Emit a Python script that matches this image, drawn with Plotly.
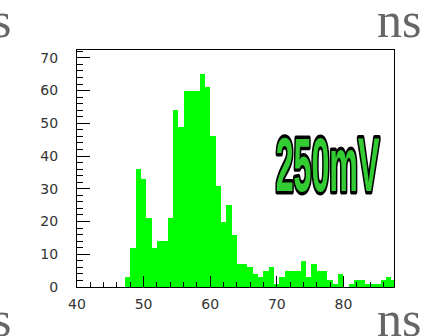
import plotly.graph_objects as go

# ---- data ----
bin_start = 40.0
bin_width = 0.8
counts = [0, 0, 0, 0, 0, 0, 0, 0, 0,
          3, 12, 36, 33, 21, 12, 14, 14, 21, 54,
          49, 60, 60, 60, 65, 61, 46, 31, 20, 25,
          16, 7, 7, 6, 4, 3, 5, 6, 1, 3,
          5, 5, 5, 8, 3, 7, 5, 5, 2, 1,
          4, 0, 1, 2, 2, 1, 1, 1, 2, 3, 2]
x_ticks = [40, 50, 60, 70, 80]
y_ticks = [0, 10, 20, 30, 40, 50, 60, 70]
x_range = [40, 87.6]
y_range = [0, 72.4]
label_text = "250mV"
corner_left = "s"
corner_right = "ns"

# ---- geometry ----
W, H = 425, 336
L, R, T, B = 77, 30.7, 50, 48.5
pw, ph = W - L - R, H - T - B


def px(X):
    return (X - L) / pw


def py(Y):
    return (H - B - Y) / ph


centers = [bin_start + bin_width * (i + 0.5) for i in range(len(counts))]

fig = go.Figure(
    go.Bar(
        x=centers,
        y=counts,
        width=bin_width,
        marker=dict(color="#00ff00", line=dict(width=0)),
        hoverinfo="skip",
    )
)

tickfont = dict(family="DejaVu Sans", size=14, color="#333333")

fig.update_layout(
    width=W,
    height=H,
    autosize=False,
    margin=dict(l=L, r=R, t=T, b=B, pad=0),
    paper_bgcolor="white",
    plot_bgcolor="white",
    showlegend=False,
    bargap=0,
    xaxis=dict(
        range=x_range,
        tickmode="array",
        tickvals=x_ticks,
        ticks="inside",
        ticklen=11,
        tickwidth=1,
        tickcolor="#000",
        minor=dict(ticks="inside", ticklen=5, tick0=40, dtick=2, tickcolor="#000", tickwidth=1),
        showline=True,
        linecolor="#000",
        linewidth=1,
        mirror=True,
        showgrid=False,
        zeroline=False,
        tickfont=tickfont,
        ticklabelstandoff=4,
    ),
    yaxis=dict(
        range=y_range,
        tickmode="array",
        tickvals=y_ticks,
        ticks="inside",
        ticklen=13,
        tickwidth=1,
        tickcolor="#000",
        minor=dict(ticks="inside", ticklen=6, tick0=0, dtick=2, tickcolor="#000", tickwidth=1),
        showline=True,
        linecolor="#000",
        linewidth=1,
        mirror=True,
        showgrid=False,
        zeroline=False,
        tickfont=tickfont,
        ticklabelstandoff=15,
    ),
)

serif = dict(family="Liberation Serif", size=50, color="#666666")
for txt, X, Y in [(corner_left, 1, 20), (corner_right, 399, 20),
                  (corner_left, 1, 320), (corner_right, 399, 320)]:
    fig.add_annotation(text=txt, x=px(X), y=py(Y), xref="paper", yref="paper",
                       xanchor="center", yanchor="middle", showarrow=False, font=serif)

fig.add_annotation(text=label_text, x=px(328), y=py(165), xref="paper", yref="paper",
                   xanchor="center", yanchor="middle", showarrow=False,
                   font=dict(family="Liberation Sans, Arial, sans-serif", size=76,
                             color="#33cc33", weight="bold"))

post = """
var gd = document.getElementById('{plot_id}');
gd.querySelectorAll('text.annotation-text').forEach(function(el){
  if (el.textContent === '250mV') {
    var bb = el.getBBox();
    var s = 104 / bb.width;
    el.style.transformBox = 'fill-box';
    el.style.transformOrigin = 'center';
    el.style.transform = 'scaleX(' + s + ')';
    el.style.stroke = '#000';
    el.style.strokeWidth = '7px';
    el.style.paintOrder = 'stroke fill';
    el.style.strokeLinejoin = 'round';
  }
});
"""

fig.write_html("out.html", post_script=post)
